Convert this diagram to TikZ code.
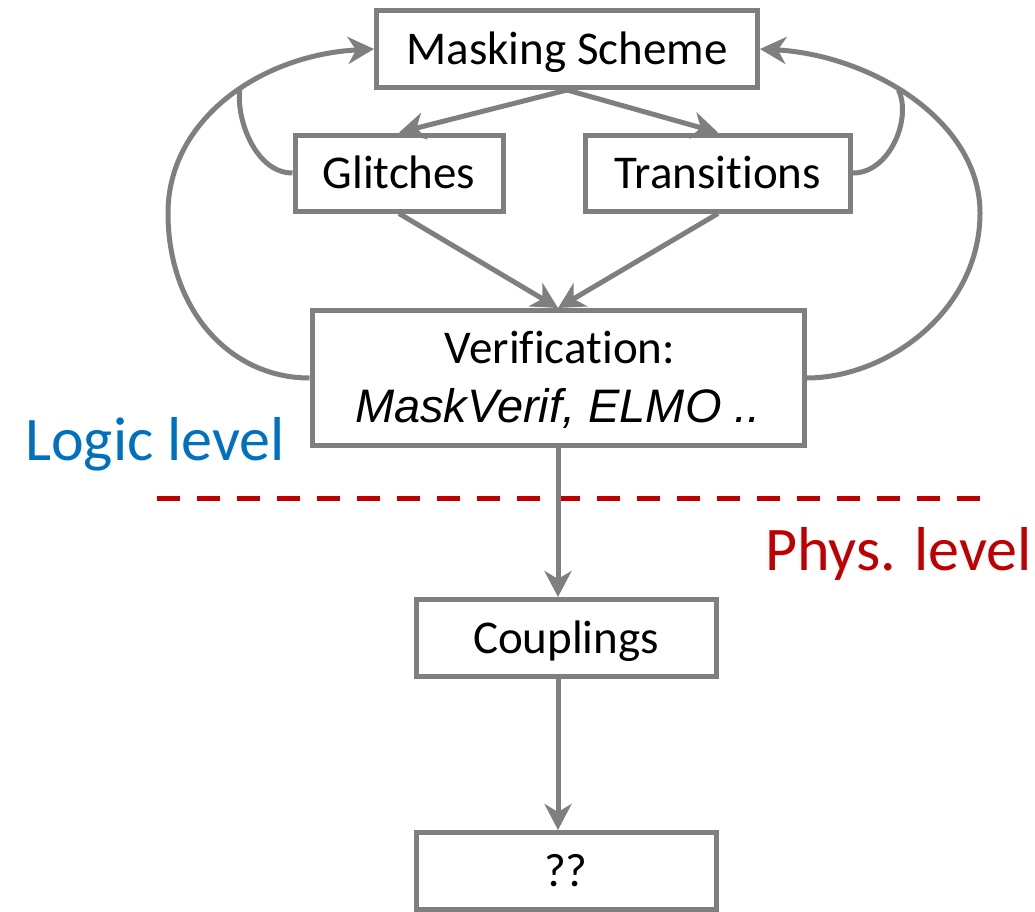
\documentclass[tikz,border=0pt]{standalone}
\usepackage{fontspec}
\setmainfont{Carlito}[Ligatures=NoCommon]
\newfontfamily\arialfam{Liberation Sans}
\usetikzlibrary{arrows.meta}
\definecolor{linegray}{RGB}{127,127,127}
\definecolor{logicblue}{RGB}{0,112,192}
\definecolor{physred}{RGB}{192,0,0}
\tikzset{
  box/.style={draw=linegray, line width=5pt, rectangle, inner sep=0pt,
    text height=30pt, text depth=0pt, font=\fontsize{47}{56}\selectfont},
  conn/.style={draw=linegray, line width=5pt,
    -{Stealth[length=26pt,width=27pt,inset=8pt]}},
  plain/.style={draw=linegray, line width=5pt},
  txt/.style={inner sep=0pt, anchor=base, font=\fontsize{47}{56}\selectfont},
  levellabel/.style={inner sep=0pt, anchor=base west, font=\fontsize{62}{72}\selectfont},
}
\begin{document}
\begin{tikzpicture}[x=1pt,y=-1pt]
\useasboundingbox (0,0) rectangle (1035,911);
% boxes
\node[box, minimum width=381pt, minimum height=77pt] (ms) at (567,49) {Masking Scheme};
\node[box, minimum width=208pt, minimum height=76pt] (gl) at (399,173) {Glitches};
\node[box, minimum width=265pt, minimum height=76pt] (tr) at (718,173) {Transitions};
\node[box, minimum width=492pt, minimum height=135pt] (ver) at (558,378) {};
\node[txt] (vt1) at (560,363) {Verification:};
\node[txt, font=\fontsize{47}{56}\arialfam\itshape] (vt2) at (558,422) {MaskVerif, ELMO ..};
\node[box, minimum width=300pt, minimum height=77pt] (cp) at (566,638) {Couplings};
\node[box, minimum width=300pt, minimum height=77pt] (qq) at (566,871) {??};
% level labels
\node[levellabel, text=logicblue] (logic) at (25,460) {Logic level};
\node[levellabel, text=physred] (phys) at (765,570) {Phys. level};
% dashed separator
\coordinate (dl) at (157,498);
\coordinate (dr) at (985,498);
\draw[physred, line width=5pt, dash pattern=on 23pt off 17pt] (dl) -- (dr);
% straight connectors
\draw[conn] (ms.south) -- (gl.north);
\draw[conn] (ms.south) -- (tr.north);
\draw[conn] (gl.south) -- (ver.north);
\draw[conn] (tr.south) -- (ver.north);
\draw[conn] (ver.south) -- (ver.south |- cp.north);
\draw[conn] (ver.south |- cp.south) -- (ver.south |- qq.north);
% feedback loops
\coordinate (lm) at (168,213);
\coordinate (rm) at (980,213);
\draw[conn] (ver.west) .. controls (230,378) and (168,310) .. (lm)
  .. controls (168,120) and (260,55) .. (ms.west) coordinate[pos=0.55] (jl);
\draw[conn] (ver.east) .. controls (888,378) and (980,310) .. (rm)
  .. controls (980,120) and (870,55) .. (ms.east) coordinate[pos=0.55] (jr);
\draw[plain] (gl.west) .. controls (255,173) and (236,118) .. (jl);
\draw[plain] (tr.east) .. controls (890,173) and (912,118) .. (jr);
\end{tikzpicture}
\end{document}
